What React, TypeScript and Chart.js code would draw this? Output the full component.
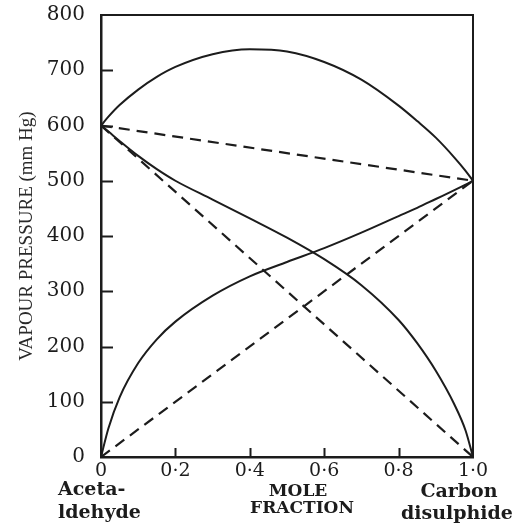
import React, { useEffect, useRef } from 'react';
import { Chart, registerables } from 'chart.js';

Chart.register(...registerables);

// Mole fraction of carbon disulphide
const moleFraction = [0, 0.02, 0.05, 0.1, 0.15, 0.2, 0.3, 0.4, 0.5, 0.6, 0.7, 0.8, 0.85, 0.9, 0.95, 0.98, 1.0];
// Total vapour pressure (mm Hg)
const totalPressure = [600, 616, 637, 665, 688, 706, 729, 738, 734, 715, 683, 636, 608, 578, 542, 518, 500];
// Partial pressure of acetaldehyde (mm Hg)
const acetaldehydePressure = [600, 589, 572, 545, 521, 500, 466, 432, 397, 358, 311, 248, 206, 156, 95, 48, 0];
// Partial pressure of carbon disulphide (mm Hg)
const cs2Pressure = [0, 52, 108, 170, 213, 245, 292, 327, 353, 378, 406, 436, 451, 467, 483, 493, 500];

// Ideal (Raoult's law) straight lines
const idealX = [0, 1];
const idealTotal = [600, 500];
const idealAcetaldehyde = [600, 0];
const idealCs2 = [0, 500];

const xTickLabels = ['0', '0·2', '0·4', '0·6', '0·8', '1·0'];
const yTitle = 'VAPOUR PRESSURE (mm Hg)';
const leftLabel = ['Aceta-', 'ldehyde'];
const centerLabel = ['MOLE', 'FRACTION'];
const rightLabel = ['Carbon', 'disulphide'];

const INK = '#1c1c1c';

const toPoints = (xs: number[], ys: number[]) => xs.map((x, i) => ({ x, y: ys[i] }));

const framePlugin = {
  id: 'frameAndLabels',
  afterDraw(chart: any) {
    const { ctx, chartArea, scales } = chart;
    const { left, right, top, bottom } = chartArea;
    const x = scales.x;
    const y = scales.y;
    ctx.save();
    ctx.strokeStyle = INK;
    ctx.lineWidth = 2;
    ctx.beginPath();
    ctx.moveTo(left, top);
    ctx.lineTo(right, top);
    ctx.lineTo(right, bottom);
    ctx.stroke();

    // inward tick marks
    ctx.beginPath();
    y.ticks.forEach((t: any) => {
      if (t.value <= 0 || t.value >= 800) return;
      const py = Math.round(y.getPixelForValue(t.value)) + 0.5;
      ctx.moveTo(left, py);
      ctx.lineTo(left + 12, py);
    });
    x.ticks.forEach((t: any) => {
      if (t.value <= 0 || t.value >= 1) return;
      const px = Math.round(x.getPixelForValue(t.value)) + 0.5;
      ctx.moveTo(px, bottom);
      ctx.lineTo(px, bottom - 9);
    });
    ctx.stroke();

    // bottom labels
    ctx.fillStyle = INK;
    ctx.textBaseline = 'middle';
    ctx.font = 'bold 19px "DejaVu Serif"';
    ctx.textAlign = 'left';
    const x0 = x.getPixelForValue(0);
    ctx.fillText(leftLabel[0], x0 - 43, bottom + 33);
    ctx.fillText(leftLabel[1], x0 - 43, bottom + 56);

    ctx.textAlign = 'center';
    const x1 = x.getPixelForValue(1);
    ctx.fillText(rightLabel[0], x1 - 14, bottom + 35);
    ctx.fillText(rightLabel[1], x1 - 16, bottom + 57);

    ctx.font = 'bold 17px "DejaVu Serif"';
    const xm = x.getPixelForValue(0.535);
    ctx.fillText(centerLabel[0], xm - 2, bottom + 35);
    ctx.fillText(centerLabel[1], xm + 2, bottom + 52);
    ctx.restore();
  },
};

export default function App() {
  const ref = useRef<HTMLCanvasElement>(null);

  useEffect(() => {
    document.body.style.margin = '0';
    const solid = {
      borderColor: INK,
      borderWidth: 2,
      pointRadius: 0,
      fill: false,
      cubicInterpolationMode: 'monotone' as const,
    };
    const dashed = {
      borderColor: INK,
      borderWidth: 2.2,
      pointRadius: 0,
      fill: false,
      borderDash: [11, 7],
      tension: 0,
    };
    const chart = new Chart(ref.current!, {
      type: 'line',
      data: {
        datasets: [
          { ...solid, label: 'Total', data: toPoints(moleFraction, totalPressure) },
          { ...solid, label: 'Acetaldehyde', data: toPoints(moleFraction, acetaldehydePressure) },
          { ...solid, label: 'Carbon disulphide', data: toPoints(moleFraction, cs2Pressure) },
          { ...dashed, label: 'Ideal total', data: toPoints(idealX, idealTotal) },
          { ...dashed, label: 'Ideal acetaldehyde', data: toPoints(idealX, idealAcetaldehyde) },
          { ...dashed, label: 'Ideal CS2', data: toPoints(idealX, idealCs2) },
        ],
      },
      options: {
        responsive: false,
        animation: false,
        layout: { padding: { left: 0, top: 15, right: 49, bottom: 0 } },
        plugins: {
          legend: { display: false },
          tooltip: { enabled: false },
        },
        scales: {
          x: {
            type: 'linear',
            min: 0,
            max: 1,
            grid: { display: false, drawTicks: false },
            border: { display: true, color: INK, width: 2.5 },
            ticks: {
              stepSize: 0.2,
              autoSkip: false,
              maxRotation: 0,
              padding: 3,
              color: INK,
              font: { family: 'DejaVu Serif', size: 19 },
              callback: (_v: any, i: number) => xTickLabels[i],
            },
            afterFit: (s: any) => {
              s.height = 70;
              s.paddingLeft = 0;
              s.paddingRight = 0;
            },
          },
          y: {
            type: 'linear',
            min: 0,
            max: 800,
            grid: { display: false, drawTicks: false },
            border: { display: true, color: INK, width: 2.5 },
            ticks: {
              stepSize: 100,
              padding: 16,
              color: INK,
              font: { family: 'DejaVu Serif', size: 20 },
            },
            title: {
              display: true,
              text: yTitle,
              color: '#2a2a2a',
              font: { family: 'Liberation Serif', size: 19 },
              padding: { top: 16, bottom: 0 },
            },
            afterFit: (s: any) => {
              s.width = 101;
              s.paddingTop = 0;
              s.paddingBottom = 0;
            },
          },
        },
      },
      plugins: [framePlugin],
    });
    return () => chart.destroy();
  }, []);

  return (
    <div style={{ width: 522, height: 527 }}>
      <canvas ref={ref} width={522} height={527} style={{ display: 'block' }} />
    </div>
  );
}
